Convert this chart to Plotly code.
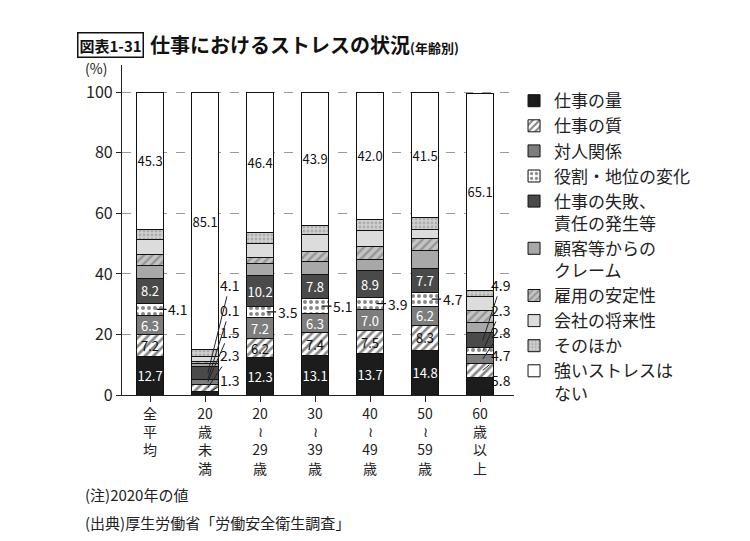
import plotly.graph_objects as go

groups = ["全<br>平<br>均", "20<br>歳<br>未<br>満", "20<br>≀<br>29<br>歳", "30<br>≀<br>39<br>歳",
          "40<br>≀<br>49<br>歳", "50<br>≀<br>59<br>歳", "60<br>歳<br>以<br>上"]

series_names = ["仕事の量", "仕事の質", "対人関係", "役割・地位の変化", "仕事の失敗、<br>責任の発生等",
                "顧客等からの<br>クレーム", "雇用の安定性", "会社の将来性", "そのほか", "強いストレスは<br>ない"]

work_amount = [12.7, 1.3, 12.3, 13.1, 13.7, 14.8, 5.8]
work_quality = [7.2, 2.3, 6.2, 7.4, 7.5, 8.3, 4.7]
relations = [6.3, 1.5, 7.2, 6.3, 7.0, 6.2, 2.8]
role_change = [4.1, 0.1, 3.5, 5.1, 3.9, 4.7, 2.3]
failure = [8.2, 4.1, 10.2, 7.8, 8.9, 7.7, 4.9]
customers = [4.4, 1.2, 4.1, 4.3, 3.6, 6.0, 3.5]
job_security = [3.4, 0.5, 1.9, 3.3, 4.5, 3.9, 4.0]
company_future = [5.2, 1.7, 4.8, 5.8, 5.2, 3.1, 4.4]
other = [3.2, 2.2, 3.4, 3.0, 3.7, 3.8, 2.2]
no_stress = [45.3, 85.1, 46.4, 43.9, 42.0, 41.5, 65.1]

values = [work_amount, work_quality, relations, role_change, failure,
          customers, job_security, company_future, other, no_stress]

styles = [
    dict(color="#1c1c1c"),
    dict(color="white", pattern=dict(shape="/", fgcolor="#111", bgcolor="white", size=6, solidity=0.45)),
    dict(color="#7d7d7d"),
    dict(color="white", pattern=dict(shape=".", fgcolor="#111", bgcolor="white", size=6, solidity=0.35)),
    dict(color="#4a4a4a"),
    dict(color="#a8a8a8"),
    dict(color="#bdbdbd", pattern=dict(shape="/", fgcolor="#666", bgcolor="#c4c4c4", size=6, solidity=0.4)),
    dict(color="#dcdcdc"),
    dict(color="#c8c8c8", pattern=dict(shape=".", fgcolor="#8a8a8a", bgcolor="#d0d0d0", size=4, solidity=0.4)),
    dict(color="white"),
]

# which series get a label inside the bar, and in what colour
inside_labels = {0: "white", 1: "#111", 2: "white", 4: "white", 9: "#111"}
small_bars = [1, 6]

lbl_family = "Liberation Sans Narrow, Noto Sans CJK JP"
x = list(range(len(groups)))
fig = go.Figure()
for k, (name, vals, st) in enumerate(zip(series_names, values, styles)):
    text = None
    if k in inside_labels:
        text = [("" if (i in small_bars and k != 9) else f"{v:.1f}") for i, v in enumerate(vals)]
    fig.add_trace(go.Bar(
        x=x, y=vals, name=name, width=0.48,
        marker=dict(line=dict(color="#111", width=1), **st),
        text=text, textposition="inside", insidetextanchor="middle", textangle=0,
        textfont=dict(family=lbl_family, size=13, color=inside_labels.get(k, "#111")),
        hoverinfo="skip",
    ))

# call-out labels
lbl_font = dict(family=lbl_family, size=14, color="#111")
for i in x:
    if i in small_bars:
        continue
    mid = work_amount[i] + work_quality[i] + relations[i] + role_change[i] / 2
    fig.add_annotation(x=i + 0.12, y=mid, ax=i + 0.5, ay=mid, axref="x", ayref="y",
                       text=f"{role_change[i]:.1f}", showarrow=True, arrowhead=0,
                       arrowwidth=1.2, arrowcolor="#111", standoff=0, font=lbl_font)

label_heights = [36.4, 28.1, 20.9, 13.2, 5.0]
for i, lx in zip(small_bars, [1.45, 6.38]):
    cum = 0
    mids = []
    for s in values[:5]:
        mids.append(cum + s[i] / 2)
        cum += s[i]
    for k, m in enumerate(mids):
        ly = label_heights[4 - k]
        fig.add_annotation(x=i + 0.05, y=m, ax=lx, ay=ly, axref="x", ayref="y",
                           text=f"{values[k][i]:.1f}", showarrow=True, arrowhead=0,
                           arrowwidth=1, arrowcolor="#222", standoff=0, font=lbl_font)

jp = "Noto Sans CJK JP"
fig.add_annotation(xref="paper", yref="paper", x=-0.03, y=1.061, xanchor="center", yanchor="middle",
                   text="<b>図表1-31</b>", showarrow=False, font=dict(family=jp, size=15, color="#111"),
                   bordercolor="#111", borderwidth=1.5, borderpad=1)
fig.add_annotation(xref="paper", yref="paper", x=0.066, y=1.061, xanchor="left", yanchor="middle",
                   text="<b>仕事におけるストレスの状況</b><b><span style='font-size:13px'>(年齢別)</span></b>",
                   showarrow=False, font=dict(family=jp, size=20, color="#111"))
fig.add_annotation(xref="paper", yref="paper", x=-0.066, y=0.99, xanchor="center", yanchor="middle",
                   text="(%)", showarrow=False, font=dict(family=jp, size=14, color="#222"))
fig.add_annotation(xref="paper", yref="paper", x=-0.098, y=-0.303, xanchor="left", yanchor="middle",
                   text="(注)2020年の値", showarrow=False, font=dict(family=jp, size=15, color="#222"))
fig.add_annotation(xref="paper", yref="paper", x=-0.098, y=-0.385, xanchor="left", yanchor="middle",
                   text="(出典)厚生労働省「労働安全衛生調査」", showarrow=False,
                   font=dict(family=jp, size=15, color="#222"))

# the page body keeps an 8px margin, so the figure is drawn 8px smaller
fig.update_layout(
    width=742, height=533, barmode="stack",
    margin=dict(l=114, r=232, t=57, b=146),
    paper_bgcolor="white", plot_bgcolor="white",
    font=dict(family=jp, size=14, color="#222"),
    uniformtext=dict(minsize=13, mode="show"),
    showlegend=True,
    legend=dict(x=0.99, y=0.945, xanchor="left", yanchor="top", traceorder="normal",
                font=dict(family=jp, size=17, color="#222"), tracegroupgap=0,
                itemwidth=30, valign="top"),
    xaxis=dict(range=[-0.51, 6.69], tickmode="array", tickvals=x, ticktext=groups,
               showline=True, linecolor="#222", linewidth=1.2, ticks="outside",
               ticklen=6, tickcolor="#222", showgrid=False, zeroline=False,
               tickfont=dict(family=jp, size=14, color="#222")),
    yaxis=dict(range=[0, 109], tickvals=[0, 20, 40, 60, 80, 100], showline=True,
               linecolor="#222", linewidth=1.2, ticks="outside", ticklen=5, tickcolor="#222",
               showgrid=True, gridcolor="#9a9a9a", griddash="dash", gridwidth=1,
               zeroline=False, tickfont=dict(family=jp, size=16, color="#222")),
)

fig.write_html("out.html")
